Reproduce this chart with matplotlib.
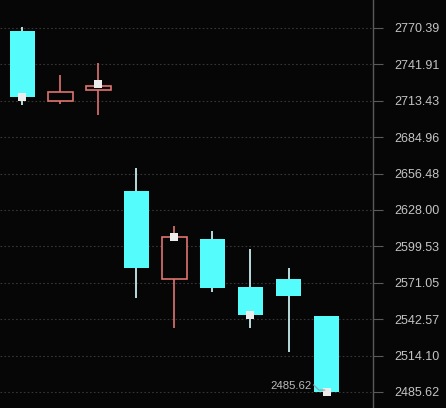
import matplotlib
matplotlib.use("Agg")
import matplotlib.pyplot as plt
import numpy as np

# OHLC values
opens  = [2768.0, 2713.2, 2721.8, 2642.8, 2574.0, 2605.3, 2567.7, 2574.0, 2545.1]
highs  = [2771.1, 2733.6, 2742.9, 2660.8, 2615.5, 2611.6, 2597.5, 2582.6, 2545.1]
lows   = [2710.1, 2710.9, 2702.3, 2559.1, 2535.7, 2563.8, 2535.7, 2516.9, 2485.62]
closes = [2716.3, 2720.3, 2724.9, 2582.6, 2606.9, 2566.9, 2545.8, 2560.7, 2485.62]

# white square markers (candle index, price)
mark_idx = [0, 2, 4, 6, 8]
mark_val = [2716.3, 2726.5, 2606.9, 2545.8, 2485.62]

yticks = [2770.39, 2741.91, 2713.43, 2684.96, 2656.48, 2628.00,
          2599.53, 2571.05, 2542.57, 2514.10, 2485.62]
low_label = "2485.62"

bg = "#060606"
cyan = "#54fcfc"
red = "#e0746f"

fig = plt.figure(figsize=(4.46, 4.08), dpi=100, facecolor=bg)
ax = fig.add_axes([0, 0, 373 / 446, 1])
ax.set_facecolor(bg)

x = np.arange(len(opens))
w = 0.66
for i in x:
    o, h, l, c = opens[i], highs[i], lows[i], closes[i]
    if c >= o:
        ax.vlines(i, l, min(o, c), color=red, lw=1.2, zorder=2)
        ax.vlines(i, max(o, c), h, color=red, lw=1.2, zorder=2)
        ax.bar(i, c - o, bottom=o, width=w, facecolor=bg, edgecolor=red, lw=1.2, zorder=3)
    else:
        ax.vlines(i, l, h, color="#d8ffff", lw=1.2, zorder=2)
        ax.bar(i, o - c, bottom=c, width=w, color=cyan, lw=0, zorder=3)

ax.scatter(mark_idx, mark_val, marker="s", s=30, color="#ececec", zorder=5, lw=0)

# label for the lowest price, left of the last candle
ax.plot([7.66, 7.8, 7.95], [lows[8] + 5.5, lows[8] + 1.5, lows[8] + 1.5],
        color="#9a9a9a", lw=0.8, zorder=6)
ax.text(7.62, lows[8] + 4.5, low_label, color="#bcbcbc", fontsize=8.2,
        family="Liberation Sans", ha="right", va="center", zorder=7)

ax.set_xlim(-0.58, 9.22)
ax.set_ylim(2473.1, 2792.2)

ax.set_yticks(yticks)
ax.set_yticklabels([f"{v:.2f}" for v in yticks])
ax.yaxis.tick_right()
ax.tick_params(axis="y", direction="out", length=7, width=0.8, color="#5a5a5a",
               pad=8, labelsize=9, labelcolor="#c4c4c4")
for t in ax.get_yticklabels():
    t.set_family("Liberation Sans")
ax.set_xticks([])
ax.grid(axis="y", color="#363636", lw=0.8, linestyle=(0, (1.5, 2)))

for s in ["top", "left", "bottom"]:
    ax.spines[s].set_visible(False)
ax.spines["right"].set_color("#5a5a5a")
ax.spines["right"].set_linewidth(1)

fig.savefig("out.png", dpi=100, facecolor=bg)
